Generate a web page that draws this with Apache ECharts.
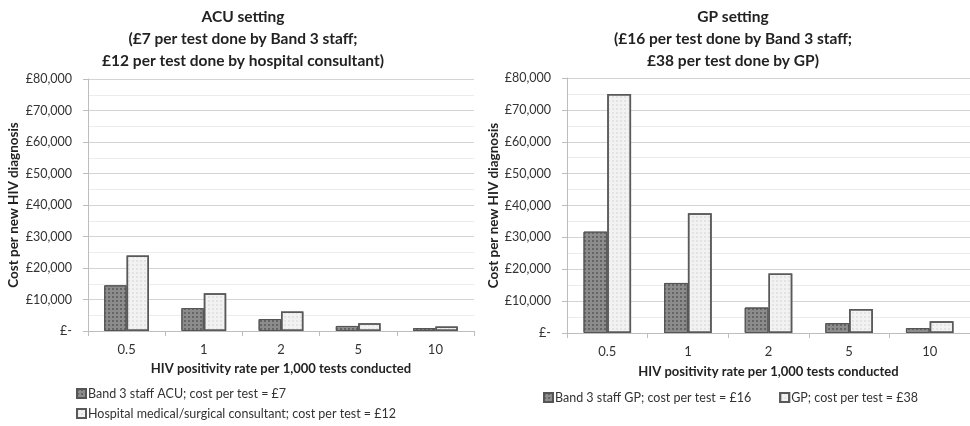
<!DOCTYPE html>
<html>
<head>
<meta charset="utf-8">
<script src="https://cdn.jsdelivr.net/npm/echarts@6/dist/echarts.min.js"></script>
<style>
html,body{margin:0;padding:0;background:#fff;}
#c{width:970px;height:426px;}
</style>
</head>
<body>
<div id="c"></div>
<script>
const categories = ['0.5', '1', '2', '5', '10'];
const acuBand3 = [14500, 7300, 3800, 1600, 900];
const acuConsultant = [24000, 12000, 6200, 2500, 1400];
const gpBand3 = [31800, 15700, 8000, 3100, 1550];
const gpGP = [75000, 37600, 18700, 7500, 3700];

const titleLeft = 'ACU setting\n(£7 per test done by Band 3 staff;\n£12 per test done by hospital consultant)';
const titleRight = 'GP setting\n(£16 per test done by Band 3 staff;\n£38 per test done by GP)';
const yName = 'Cost per new HIV diagnosis';
const xName = 'HIV positivity rate per 1,000 tests conducted';
const nameAcuBand3 = 'Band 3 staff ACU; cost per test = £7';
const nameAcuCons = 'Hospital medical/surgical consultant; cost per test = £12';
const nameGpBand3 = 'Band 3 staff GP; cost per test = £16';
const nameGpGP = 'GP; cost per test = £38';

const FONT = 'Lato';
const fmt = v => v === 0 ? '£-' : '£' + v.toLocaleString('en-GB');

const darkStyle = {color: '#8c8c8c', borderColor: '#555555', borderWidth: 1,
  decal: {symbol: 'rect', symbolSize: 1, dashArrayX: [2, 2], dashArrayY: [2, 2], color: 'rgba(70,70,70,0.55)'}};
const lightStyle = {color: '#f2f2f2', borderColor: '#595959', borderWidth: 1.5,
  decal: {symbol: 'rect', symbolSize: 1, dashArrayX: [2, 2], dashArrayY: [2, 2], color: 'rgba(200,200,200,0.35)'}};

function yAxis(gi) {
  return {
    gridIndex: gi, type: 'value', min: 0, max: 80000, interval: 10000,
    name: yName, nameLocation: 'middle', nameRotate: 90, nameGap: gi === 0 ? 67 : 63,
    nameTextStyle: {fontFamily: FONT, fontWeight: 'bold', fontSize: 13.5, color: '#222'},
    axisLine: {show: true, lineStyle: {color: '#bdbdbd'}},
    axisTick: {show: true, length: 5, lineStyle: {color: '#bdbdbd'}},
    axisLabel: {formatter: fmt, fontFamily: FONT, fontSize: 12.5, color: '#333', margin: 16},
    splitLine: {show: true, lineStyle: {color: '#d4d4d4'}},
    minorTick: {show: false, splitNumber: 2},
    minorSplitLine: {show: true, lineStyle: {color: '#ececec'}}
  };
}
function xAxis(gi) {
  return {
    gridIndex: gi, type: 'category', data: categories,
    name: xName, nameLocation: 'middle', nameGap: gi === 0 ? 31 : 32,
    nameTextStyle: {fontFamily: FONT, fontWeight: 'bold', fontSize: 13, color: '#222'},
    axisLine: {lineStyle: {color: '#bdbdbd'}},
    axisTick: {show: true, length: 5, lineStyle: {color: '#bdbdbd'}},
    axisLabel: {fontFamily: FONT, fontSize: 13, color: '#333', margin: 12}
  };
}

const chart = echarts.init(document.getElementById('c'));
chart.setOption({
  animation: false,
  backgroundColor: '#fff',
  title: [
    {text: titleLeft, left: 238, top: 1, textAlign: 'center',
     textStyle: {fontFamily: FONT, fontWeight: 'bold', fontSize: 15.5, color: '#222', lineHeight: 22, align: 'center'}},
    {text: titleRight, left: 728, top: 1, textAlign: 'center',
     textStyle: {fontFamily: FONT, fontWeight: 'bold', fontSize: 15.5, color: '#222', lineHeight: 22, align: 'center'}}
  ],
  grid: [
    {left: 88, top: 79, width: 386, height: 252},
    {left: 567, top: 78, width: 403, height: 255}
  ],
  xAxis: [xAxis(0), xAxis(1)],
  yAxis: [yAxis(0), yAxis(1)],
  legend: [
    {data: [nameAcuBand3, nameAcuCons], orient: 'vertical', left: 76, top: 387, itemGap: 7,
     padding: 0, width: 400, height: 40,
     itemWidth: 9, itemHeight: 9, icon: 'rect',
     textStyle: {fontFamily: FONT, fontSize: 12.5, color: '#333', padding: [0,0,0,-3]}},
    {data: [nameGpBand3, nameGpGP], orient: 'horizontal', left: 543, top: 391, itemGap: 28,
     padding: 0, width: 420,
     itemWidth: 9, itemHeight: 9, icon: 'rect',
     textStyle: {fontFamily: FONT, fontSize: 12.5, color: '#333', padding: [0,0,0,-3]}}
  ],
  series: [
    {name: nameAcuBand3, type: 'bar', xAxisIndex: 0, yAxisIndex: 0, data: acuBand3,
     barGap: '0%', barCategoryGap: '42%', itemStyle: darkStyle},
    {name: nameAcuCons, type: 'bar', xAxisIndex: 0, yAxisIndex: 0, data: acuConsultant,
     barGap: '0%', barCategoryGap: '42%', itemStyle: lightStyle},
    {name: nameGpBand3, type: 'bar', xAxisIndex: 1, yAxisIndex: 1, data: gpBand3,
     barGap: '0%', barCategoryGap: '41%', itemStyle: darkStyle},
    {name: nameGpGP, type: 'bar', xAxisIndex: 1, yAxisIndex: 1, data: gpGP,
     barGap: '0%', barCategoryGap: '41%', itemStyle: lightStyle}
  ]
});
</script>
</body>
</html>
